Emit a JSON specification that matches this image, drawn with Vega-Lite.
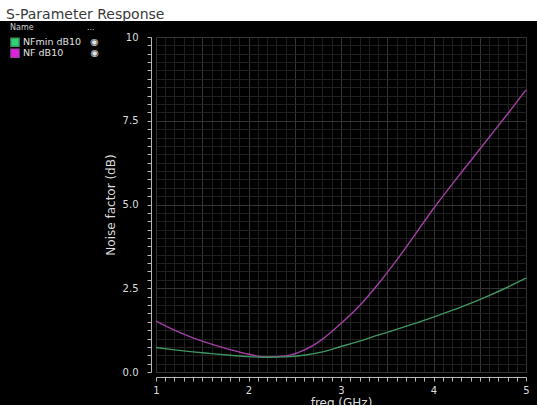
{
  "$schema": "https://vega.github.io/schema/vega-lite/v6.json",
  "background": "black",
  "padding": 0,
  "spacing": 10,
  "config": {"view": {"stroke": null}, "font": "DejaVu Sans"},
  "vconcat": [
    {
      "width": 537,
      "height": 21,
      "view": {"fill": "white", "stroke": null},
      "data": {"values": []},
      "mark": "point",
      "title": {
        "text": "S-Parameter Response",
        "anchor": "start",
        "frame": "group",
        "orient": "top",
        "offset": 0,
        "dx": 6,
        "dy": 22,
        "baseline": "top",
        "zindex": 1,
        "font": "DejaVu Sans",
        "fontSize": 14,
        "fontWeight": "normal",
        "color": "#3a3a3a"
      }
    },
    {
      "spacing": 0,
      "hconcat": [
        {
          "width": 104,
          "height": 335,
          "view": {"stroke": null},
          "data": {"values": []},
          "mark": "point"
        },
        {
          "width": 370,
          "height": 335,
          "view": {"fill": "black", "stroke": null},
          "data": {
            "values": [
              {"freq": 1.0, "series": "NF dB10", "value": 1.52},
              {"freq": 1.2, "series": "NF dB10", "value": 1.25},
              {"freq": 1.4, "series": "NF dB10", "value": 1.02},
              {"freq": 1.6, "series": "NF dB10", "value": 0.83},
              {"freq": 1.8, "series": "NF dB10", "value": 0.67},
              {"freq": 2.0, "series": "NF dB10", "value": 0.53},
              {"freq": 2.2, "series": "NF dB10", "value": 0.45},
              {"freq": 2.4, "series": "NF dB10", "value": 0.48},
              {"freq": 2.6, "series": "NF dB10", "value": 0.65},
              {"freq": 2.8, "series": "NF dB10", "value": 0.98},
              {"freq": 3.0, "series": "NF dB10", "value": 1.45},
              {"freq": 3.2, "series": "NF dB10", "value": 1.98},
              {"freq": 3.4, "series": "NF dB10", "value": 2.62},
              {"freq": 3.6, "series": "NF dB10", "value": 3.33},
              {"freq": 3.8, "series": "NF dB10", "value": 4.1},
              {"freq": 4.0, "series": "NF dB10", "value": 4.88},
              {"freq": 4.2, "series": "NF dB10", "value": 5.6},
              {"freq": 4.4, "series": "NF dB10", "value": 6.3},
              {"freq": 4.6, "series": "NF dB10", "value": 7.0},
              {"freq": 4.8, "series": "NF dB10", "value": 7.7},
              {"freq": 5.0, "series": "NF dB10", "value": 8.42},
              {"freq": 1.0, "series": "NFmin dB10", "value": 0.73},
              {"freq": 1.2, "series": "NFmin dB10", "value": 0.66},
              {"freq": 1.4, "series": "NFmin dB10", "value": 0.6},
              {"freq": 1.6, "series": "NFmin dB10", "value": 0.55},
              {"freq": 1.8, "series": "NFmin dB10", "value": 0.5},
              {"freq": 2.0, "series": "NFmin dB10", "value": 0.46},
              {"freq": 2.2, "series": "NFmin dB10", "value": 0.44},
              {"freq": 2.4, "series": "NFmin dB10", "value": 0.45},
              {"freq": 2.6, "series": "NFmin dB10", "value": 0.5},
              {"freq": 2.8, "series": "NFmin dB10", "value": 0.6},
              {"freq": 3.0, "series": "NFmin dB10", "value": 0.76},
              {"freq": 3.2, "series": "NFmin dB10", "value": 0.92},
              {"freq": 3.4, "series": "NFmin dB10", "value": 1.1},
              {"freq": 3.6, "series": "NFmin dB10", "value": 1.27},
              {"freq": 3.8, "series": "NFmin dB10", "value": 1.45},
              {"freq": 4.0, "series": "NFmin dB10", "value": 1.64},
              {"freq": 4.2, "series": "NFmin dB10", "value": 1.84},
              {"freq": 4.4, "series": "NFmin dB10", "value": 2.05},
              {"freq": 4.6, "series": "NFmin dB10", "value": 2.28},
              {"freq": 4.8, "series": "NFmin dB10", "value": 2.53},
              {"freq": 5.0, "series": "NFmin dB10", "value": 2.8}
            ]
          },
          "mark": {"type": "line", "interpolate": "monotone", "strokeWidth": 1.4},
          "encoding": {
            "x": {
              "field": "freq",
              "type": "quantitative",
              "scale": {"domain": [1, 5], "nice": false, "zero": false},
              "axis": {
                "title": "freq (GHz)",
                "values": [1, 1.1, 1.2, 1.3, 1.4, 1.5, 1.6, 1.7, 1.8, 1.9, 2, 2.1, 2.2, 2.3, 2.4, 2.5, 2.6, 2.7, 2.8, 2.9, 3, 3.1, 3.2, 3.3, 3.4, 3.5, 3.6, 3.7, 3.8, 3.9, 4, 4.1, 4.2, 4.3, 4.4, 4.5, 4.6, 4.7, 4.8, 4.9, 5],
                "labelExpr": "abs(datum.value - round(datum.value)) < 0.001 ? format(datum.value, 'd') : ''",
                "labelFlush": false,
                "labelOverlap": false,
                "offset": 5,
                "tickSize": 4,
                "tickColor": "#b8b8b8",
                "domainColor": "#b8b8b8",
                "labelColor": "#dddddd",
                "labelFont": "DejaVu Sans",
                "labelFontSize": 10,
                "labelPadding": 4,
                "grid": true,
                "gridColor": {"condition": {"test": "abs(datum.value*2 - round(datum.value*2)) < 0.001", "value": "#343434"}, "value": "#202020"},
                "titleColor": "#dddddd",
                "titleFont": "DejaVu Sans",
                "titleFontSize": 12,
                "titleFontWeight": "normal",
                "titlePadding": 2
              }
            },
            "y": {
              "field": "value",
              "type": "quantitative",
              "scale": {"domain": [0, 10], "nice": false},
              "axis": {
                "title": "Noise factor (dB)",
                "values": [0, 0.25, 0.5, 0.75, 1, 1.25, 1.5, 1.75, 2, 2.25, 2.5, 2.75, 3, 3.25, 3.5, 3.75, 4, 4.25, 4.5, 4.75, 5, 5.25, 5.5, 5.75, 6, 6.25, 6.5, 6.75, 7, 7.25, 7.5, 7.75, 8, 8.25, 8.5, 8.75, 9, 9.25, 9.5, 9.75, 10],
                "labelExpr": "datum.value % 2.5 === 0 ? (datum.value === 10 ? '10' : format(datum.value, '.1f')) : ''",
                "labelOverlap": false,
                "labelFlush": false,
                "offset": 5,
                "tickSize": 4,
                "tickColor": "#b8b8b8",
                "domainColor": "#b8b8b8",
                "labelColor": "#dddddd",
                "labelFont": "DejaVu Sans",
                "labelFontSize": 10,
                "labelPadding": 9,
                "grid": true,
                "gridColor": {"condition": {"test": "datum.value % 2.5 === 0", "value": "#343434"}, "value": "#202020"},
                "titleColor": "#dddddd",
                "titleFont": "DejaVu Sans",
                "titleFontSize": 12,
                "titleFontWeight": "normal",
                "titlePadding": 5
              }
            },
            "color": {
              "field": "series",
              "type": "nominal",
              "scale": {"domain": ["NFmin dB10", "NF dB10"], "range": ["#3f9662", "#a33fa6"]},
              "legend": {
                "orient": "none",
                "legendX": 7,
                "legendY": 21,
                "padding": 3,
                "title": "Name\u00a0\u00a0\u00a0\u00a0\u00a0\u00a0\u00a0\u00a0\u00a0\u00a0\u00a0\u00a0\u00a0\u00a0\u00a0\u00a0\u00a0\u00a0\u00a0\u00a0\u00a0...",
                "titleFont": "DejaVu Sans",
                "titleFontSize": 8,
                "titleFontWeight": "normal",
                "titleColor": "#d0d0d0",
                "titleBaseline": "top",
                "titlePadding": 5,
                "titleLimit": 200,
                "symbolType": "square",
                "symbolSize": 64,
                "labelFont": "DejaVu Sans",
                "labelFontSize": 9.5,
                "labelColor": "#e0e0e0",
                "labelOffset": 3,
                "clipHeight": 10.5,
                "rowPadding": 0,
                "labelExpr": "datum.label + (datum.label === 'NF dB10' ? '\u00a0\u00a0\u00a0\u00a0\u00a0\u00a0\u00a0\u00a0\u00a0◉' : '\u00a0\u00a0\u00a0◉')",
                "encode": {
                  "symbols": {
                    "update": {
                      "fill": [{"test": "datum.value === 'NF dB10'", "value": "#e020e0"}, {"value": "#2bd474"}],
                      "stroke": {"value": "transparent"},
                      "opacity": {"value": 1},
                      "shape": {"value": "square"}
                    }
                  }
                }
              }
            }
          }
        }
      ]
    }
  ]
}
